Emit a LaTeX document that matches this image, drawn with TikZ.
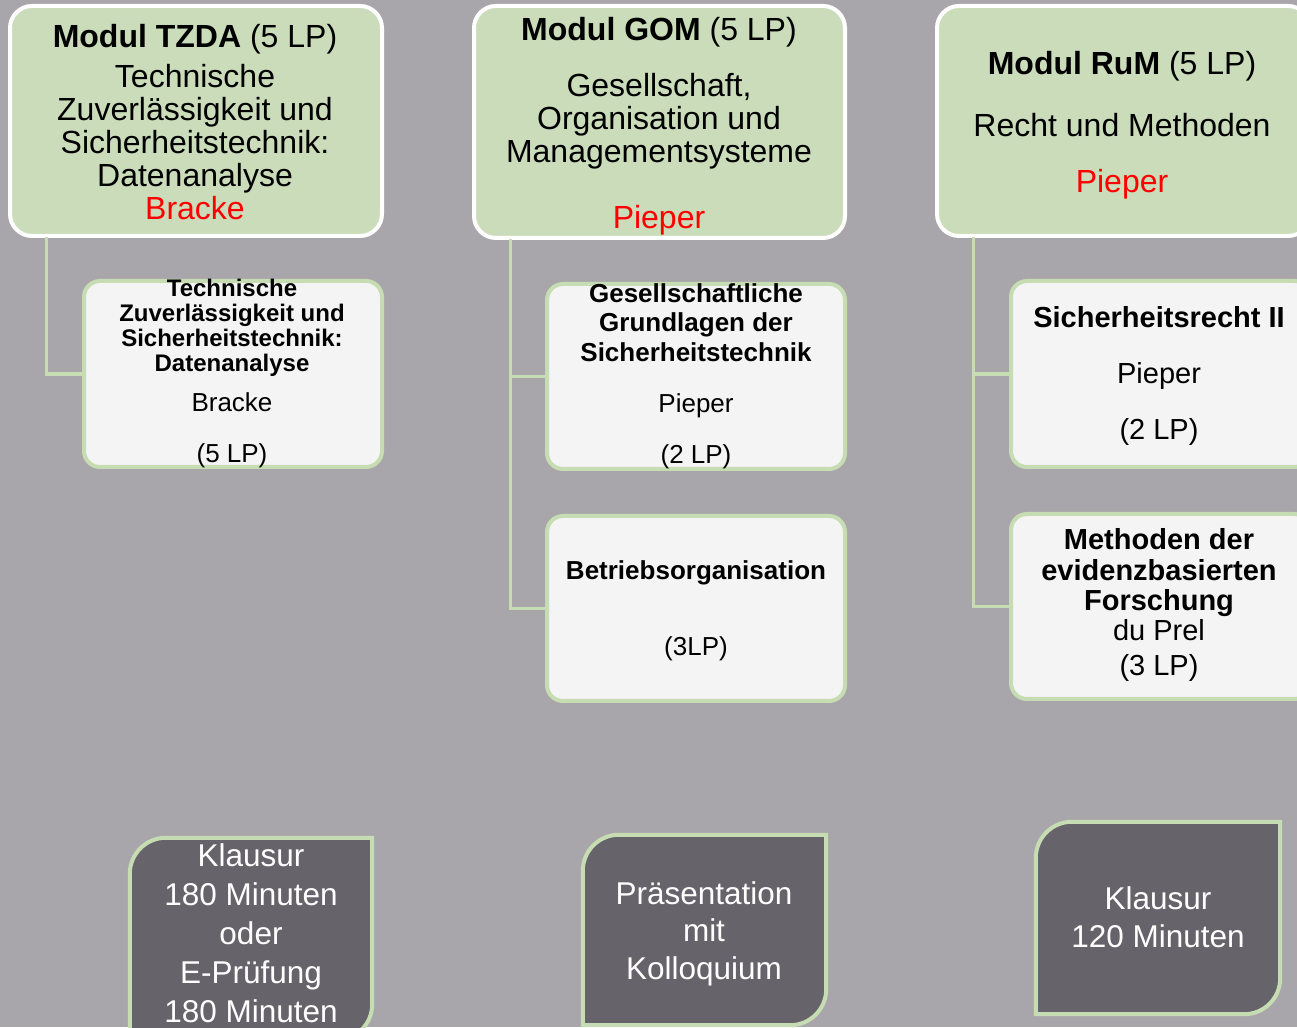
\documentclass[tikz,border=0pt]{standalone}
\usepackage{fontspec}
\setmainfont{Liberation Sans}
\definecolor{bgc}{HTML}{A9A6AB}
\definecolor{modfill}{HTML}{CADCB9}
\definecolor{subfill}{HTML}{F4F4F4}
\definecolor{lgreen}{HTML}{C6DCB2}
\definecolor{examfill}{HTML}{67636A}
\definecolor{pred}{HTML}{FF0000}
\newcommand\setfs[2]{\fontsize{#1}{#2}\selectfont}
\begin{document}
\begin{tikzpicture}[x=1pt,y=1pt,
  modbox/.style={draw=white,line width=4,fill=modfill,rounded corners=22,inner sep=0},
  subbox/.style={draw=lgreen,line width=4,fill=subfill,rounded corners=16,inner sep=0},
  exambox/.style={inner sep=0},
  examshape/.style={draw=lgreen,line width=4,fill=examfill},
  conn/.style={draw=lgreen,line width=3.5},
  txt/.style={align=center,inner sep=0,text=black},
  one/.style={inner sep=0,anchor=base,text=black},
  wtxt/.style={align=center,inner sep=0,text=white,font=\setfs{31.5}{39}}]
\useasboundingbox (0,0) rectangle (1297,1027);
\clip (0,0) rectangle (1297,1027);
\fill[bgc] (0,0) rectangle (1297,1027);

% module boxes
\node[modbox,minimum width=372,minimum height=230] (tzda) at (196,906) {};
\node[modbox,minimum width=371,minimum height=232] (gom) at (659.5,905) {};
\node[modbox,minimum width=373,minimum height=230] (rum) at (1123.5,906) {};

% connector start points
\coordinate (tzk) at ([xshift=38.5,yshift=1]tzda.south west);
\coordinate (gok) at ([xshift=38.5,yshift=1]gom.south west);
\coordinate (ruk) at ([xshift=38.5,yshift=1]rum.south west);

% sub boxes
\node[subbox,minimum width=298,minimum height=186] (tzdac) at (233,653) {};
\node[subbox,minimum width=298,minimum height=185] (gomc1) at (696,650.5) {};
\node[subbox,minimum width=298,minimum height=185] (gomc2) at (696,418.5) {};
\node[subbox,minimum width=299,minimum height=186] (rumc1) at (1160.5,653) {};
\node[subbox,minimum width=299,minimum height=185] (rumc2) at (1160.5,420.5) {};

\draw[conn] (tzk) |- (tzdac.west);
\draw[conn] (gok) |- (gomc1.west);
\draw[conn] (gok) |- (gomc2.west);
\draw[conn] (ruk) |- (rumc1.west);
\draw[conn] (ruk) |- (rumc2.west);

% exam boxes
\node[exambox,minimum width=242,minimum height=202] (ex1) at (251,88) {};
\node[exambox,minimum width=243,minimum height=190] (ex2) at (704.5,97) {};
\node[exambox,minimum width=244,minimum height=192] (ex3) at (1158,109) {};
\foreach \e in {ex1,ex2,ex3}{
  \draw[examshape] (\e.south west) -- ([yshift=-36]\e.north west)
    arc[start angle=180,end angle=90,radius=36] -- (\e.north east)
    -- ([yshift=36]\e.south east) arc[start angle=0,end angle=-90,radius=36] -- cycle;
}

% module texts
\node[txt,font=\setfs{32}{33}] (tzdat) at (195,905)
  {\textbf{Modul TZDA} (5 LP)\\[7pt]Technische\\Zuverlässigkeit und\\Sicherheitstechnik:\\Datenanalyse\\\textcolor{pred}{Bracke}};
\node[txt,font=\setfs{32}{33}] (gomt) at (659,900.7)
  {\textbf{Modul GOM} (5 LP)\\[23pt]Gesellschaft,\\Organisation und\\Managementsysteme\\[33pt]\textcolor{pred}{Pieper}};
\node[txt,font=\setfs{32}{33}] (rumt) at (1122,901.7)
  {\textbf{Modul RuM} (5 LP)\\[29pt]Recht und Methoden\\[23pt]\textcolor{pred}{Pieper}};

% sub box texts
\node[txt,font=\setfs{24}{25}\bfseries] (tzdacb) at (232,699)
  {Technische\\Zuverlässigkeit und\\Sicherheitstechnik:\\Datenanalyse};
\node[one,font=\setfs{26}{30}] (tzdacn) at (232,615.6) {Bracke};
\node[one,font=\setfs{26}{30}] (tzdacl) at (232,564.6) {(5 LP)};

\node[txt,font=\setfs{26}{29.5}\bfseries] (gomc1b) at (696,704.6)
  {Gesellschaftliche\\Grundlagen der\\Sicherheitstechnik};
\node[one,font=\setfs{26}{30}] (gomc1n) at (696,614.6) {Pieper};
\node[one,font=\setfs{26}{30}] (gomc1l) at (696,563.6) {(2 LP)};

\node[one,font=\setfs{26}{30}\bfseries] (gomc2b) at (696,447.6) {Betriebsorganisation};
\node[one,font=\setfs{26}{30}] (gomc2l) at (696,371.6) {(3LP)};

\node[one,font=\setfs{29}{30}\bfseries] (rumc1b) at (1159,699.6) {Sicherheitsrecht II};
\node[one,font=\setfs{29}{30}] (rumc1n) at (1159,643.6) {Pieper};
\node[one,font=\setfs{29}{30}] (rumc1l) at (1159,587.6) {(2 LP)};

\node[one,font=\setfs{29}{30}\bfseries] (rumc2a) at (1159,477.6) {Methoden der};
\node[one,font=\setfs{29}{30}\bfseries] (rumc2b) at (1159,446.6) {evidenzbasierten};
\node[one,font=\setfs{29}{30}\bfseries] (rumc2c) at (1159,416.6) {Forschung};
\node[one,font=\setfs{29}{30}] (rumc2n) at (1159,386.6) {du Prel};
\node[one,font=\setfs{29}{30}] (rumc2l) at (1159,351.6) {(3 LP)};

% exam texts
\node[wtxt] (ex1t) at (251,93.6) {Klausur\\180 Minuten\\oder\\E-Prüfung\\180 Minuten};
\node[wtxt,font=\setfs{31.5}{37.5}] (ex2t) at (704,93.4) {Präsentation\\mit\\Kolloquium};
\node[wtxt,font=\setfs{31.5}{38}] (ex3t) at (1158,110.1) {Klausur\\120 Minuten};
\end{tikzpicture}
\end{document}
